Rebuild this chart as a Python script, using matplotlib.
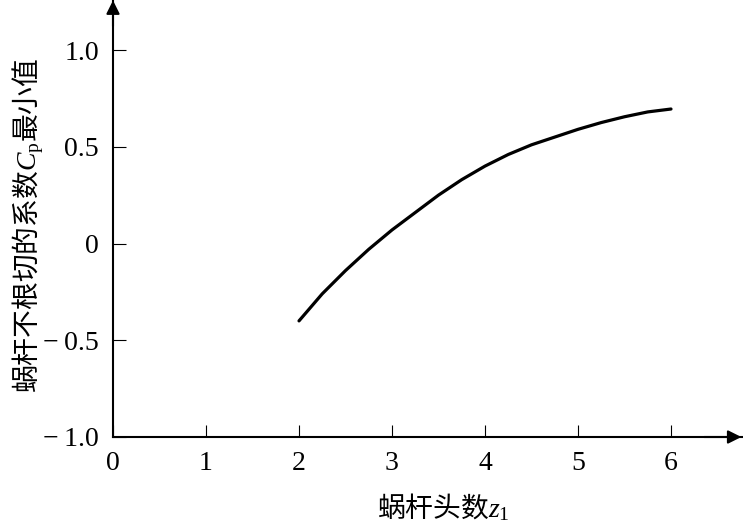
import matplotlib
matplotlib.use("Agg")
import matplotlib.pyplot as plt

# 蜗杆头数 z1 与系数 Cp 最小值
z1 = [2.0, 2.25, 2.5, 2.75, 3.0, 3.25, 3.5, 3.75, 4.0, 4.25, 4.5, 4.75, 5.0, 5.25, 5.5, 5.75, 6.0]
cp_min = [-0.40, -0.26, -0.14, -0.03, 0.07, 0.16, 0.25, 0.33, 0.40, 0.46, 0.51, 0.55,
          0.59, 0.625, 0.655, 0.68, 0.695]

x_ticks = [0, 1, 2, 3, 4, 5, 6]
y_ticks = [-1.0, -0.5, 0, 0.5, 1.0]
y_tick_labels = ["\u2212\u20091.0", "\u2212\u20090.5", "0", "0.5", "1.0"]

plt.rcParams["mathtext.fontset"] = "custom"
plt.rcParams["mathtext.rm"] = "Liberation Serif"
plt.rcParams["mathtext.it"] = "Liberation Serif:italic"

W, H = 743, 529
fig = plt.figure(figsize=(W / 100, H / 100), dpi=100)
ax = fig.add_axes([113 / W, (H - 437) / H, 629 / W, 437 / H])

ax.plot(z1, cp_min, color="black", linewidth=2.3, solid_capstyle="round")

ax.set_xlim(0, 629 / 93)
ax.set_ylim(-1.0, -1.0 + 437 / 193.5)

for s in ["top", "right"]:
    ax.spines[s].set_visible(False)
for s in ["left", "bottom"]:
    ax.spines[s].set_linewidth(1.5)

# 坐标轴箭头
arrow = dict(arrowstyle="-|>", color="black", lw=1.5, mutation_scale=20, shrinkA=0, shrinkB=0)
ax.annotate("", xy=(0.999, 0), xytext=(0.94, 0), xycoords="axes fraction", arrowprops=arrow)
ax.annotate("", xy=(0, 0.999), xytext=(0, 0.94), xycoords="axes fraction", arrowprops=arrow)

ax.set_xticks(x_ticks)
ax.set_xticklabels([str(v) for v in x_ticks], fontfamily="Liberation Serif", fontsize=20)
ax.set_yticks(y_ticks)
ax.set_yticklabels(y_tick_labels, fontfamily="Liberation Serif", fontsize=20)
ax.tick_params(direction="in", length=9, width=0.8, pad=10)

fig.text(443 / W, 1 - 508 / H, "蜗杆头数$z_1$", fontfamily="Noto Sans CJK SC",
         fontsize=20, ha="center", va="center")
fig.text(28 / W, 1 - 225 / H, "蜗杆不根切的系数$C_\\mathrm{p}$最小值",
         fontfamily="Noto Sans CJK SC", fontsize=20, rotation=90, ha="center", va="center")

fig.savefig("out.png", dpi=100)
